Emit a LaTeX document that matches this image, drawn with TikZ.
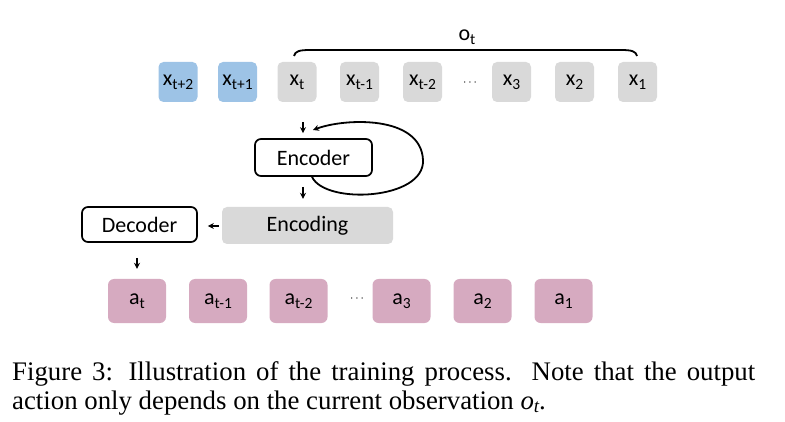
\documentclass[tikz,border=0pt]{standalone}
\usepackage{fontspec}
\setmainfont{Carlito}
\newfontfamily\capfont{Liberation Serif}
\usetikzlibrary{arrows.meta}
\definecolor{obsblue}{HTML}{9DC3E6}
\definecolor{obsgray}{HTML}{D9D9D9}
\definecolor{actpink}{HTML}{D6AAC0}
\definecolor{ink}{HTML}{000000}
\newcommand\sbs[1]{\raisebox{-0.4ex}{\fontsize{15.5}{15.5}\selectfont #1}}
\tikzset{fig/.style={line join=round,>={Stealth[length=6pt,width=6pt]}},
  obs/.style={fill=obsgray,rounded corners=5pt,minimum width=39pt,minimum height=40pt,inner sep=0pt},
  act/.style={fill=actpink,rounded corners=6pt,minimum width=58pt,minimum height=44pt,inner sep=0pt},
  net/.style={draw=ink,line width=1.7pt,rounded corners=6pt,inner sep=0pt},
  arr/.style={->,ink,line width=1.3pt}}

\begin{document}
\begin{tikzpicture}[fig,x=1pt,y=-1pt,font=\fontsize{22}{26}\selectfont]
  \useasboundingbox (0,0) rectangle (785,422);
  % observations
  \node[obs,fill=obsblue](xt2)at(178,82){x\sbs{t+2}};\node[obs,fill=obsblue](xt1)at(237.5,82){x\sbs{t+1}};
  \foreach \nm/\px/\lb in {xt/297/t,xm1/359.5/t-1,xm2/422.5/t-2,x3/511.5/3,x2/574.5/2,x1/637.5/1}
    \node[obs](\nm)at(\px,82){x\sbs{\lb}};
  \node(dtop)at(470,83){\fontsize{12}{12}\selectfont$\cdots$};
  \coordinate(bl)at(294,56);\coordinate(br)at(637,56);
  \draw[ink,line width=1.8pt](bl)..controls(295,51)and(300,50)..(310,50)--(621,50)..controls(631,50)and(636,51)..(br);
  \node(ot)at(467,37){o\sbs{t}};
  % actions
  \foreach \nm/\px/\lb in {acur/137/t,am1/218/t-1,am2/298.5/t-2,a3/401.5/3,a2/482.5/2,a1/563.5/1}
    \node[act](\nm)at(\px,301){a\sbs{\lb}};
  \node(dbot)at(357,299){\fontsize{12}{12}\selectfont$\cdots$};
  % networks
  \node[net,minimum width=117pt,minimum height=37pt](enc)at(313.5,157.5){Encoder};
  \node[obs,minimum width=171pt,minimum height=37pt](ecd)at(307.5,225.5){Encoding};
  \node[net,minimum width=115pt,minimum height=35pt](dec)at(139.5,224.5){Decoder};
  \coordinate(lp)at(313,130);
  \draw[arr]([shift={(6,20)}]xt.south)--([shift={(-10.5,-5)}]enc.north);
  \draw[arr]([shift={(-10.5,10)}]enc.south)--([shift={(-4.5,-8)}]ecd.north);
  \draw[arr]([shift={(-3,0.5)}]ecd.west)--([shift={(10,1.5)}]dec.east);
  \draw[arr]([shift={(-2.5,15)}]dec.south)--([shift={(0,-10)}]acur.north);
  \draw[arr,line width=1.8pt]([xshift=-1.5pt]enc.south)..controls(325,205)and(425,200)..(423,160)..controls(421,115)and(345,118)..(lp);
  % caption
  \node[anchor=base west,inner sep=0pt,font=\capfont\fontsize{26.8}{31}\selectfont](cap1)at(12,380)
    {\makebox[743pt][s]{Figure 3: Illustration of the training process.\ \ Note that the output}};
  \node[anchor=base west,inner sep=0pt,font=\capfont\fontsize{26.8}{31}\selectfont](cap2)at(12,409)
    {action only depends on the current observation {\itshape o}\raisebox{-0.3ex}{\fontsize{19}{19}\selectfont\itshape t}.};
\end{tikzpicture}
\end{document}
